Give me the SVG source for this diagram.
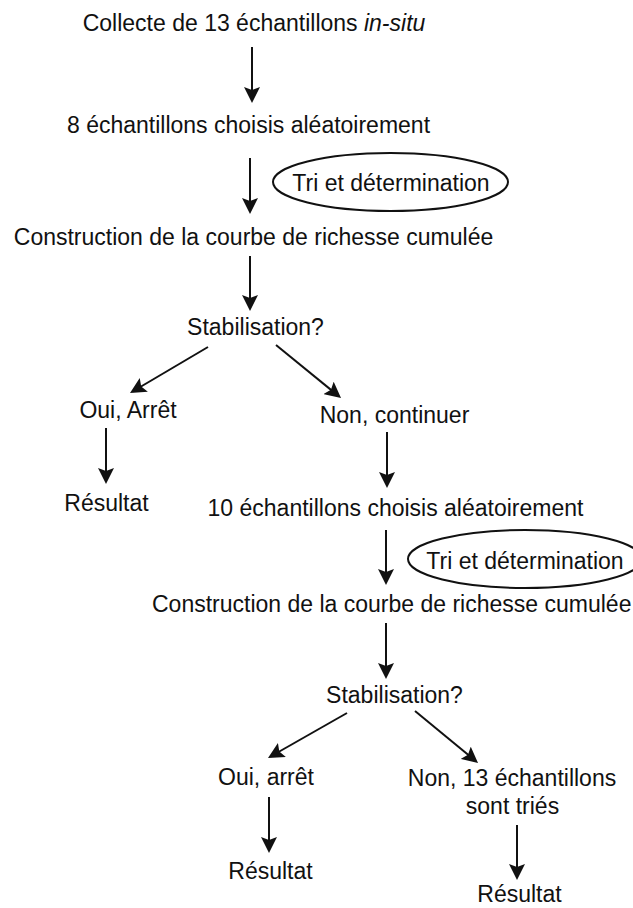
<svg xmlns="http://www.w3.org/2000/svg" width="633" height="908" viewBox="0 0 633 908">
  <defs>
    <style>
      text { font-family: "Liberation Sans", Arial, sans-serif; font-size: 23px; fill: #111; }
      .c { text-anchor: middle; }
      .edge { stroke: #111; stroke-width: 2; fill: none; marker-end: url(#ah); }
      .oval { stroke: #111; stroke-width: 2; fill: #fff; }
    </style>
    <marker id="ah" viewBox="0 0 16 16" refX="13" refY="8" markerWidth="16" markerHeight="16" markerUnits="userSpaceOnUse" orient="auto">
      <path d="M0,0 L16,8 L0,16 L3,8 Z" fill="#111"/>
    </marker>
  </defs>
  <rect width="633" height="908" fill="#fff"/>

  <g id="connectors">
    <line class="edge" x1="252" y1="47" x2="252" y2="100"/>
    <line class="edge" x1="250" y1="158" x2="250" y2="211"/>
    <line class="edge" x1="250" y1="256" x2="250" y2="308"/>
    <line class="edge" x1="208" y1="347" x2="132.6" y2="391.5"/>
    <line class="edge" x1="276" y1="345" x2="338.7" y2="396.1"/>
    <line class="edge" x1="106" y1="428" x2="106" y2="481"/>
    <line class="edge" x1="387" y1="432" x2="387" y2="485"/>
    <line class="edge" x1="386" y1="530" x2="386" y2="582"/>
    <line class="edge" x1="386" y1="623" x2="386" y2="676"/>
    <line class="edge" x1="347" y1="713" x2="270.6" y2="756.5"/>
    <line class="edge" x1="415" y1="711" x2="475.7" y2="761.1"/>
    <line class="edge" x1="269" y1="797" x2="269" y2="850"/>
    <line class="edge" x1="517" y1="825" x2="517" y2="877"/>
  </g>

  <g id="collecte"><text class="c" x="254" y="31">Collecte de 13 échantillons <tspan font-style="italic">in-situ</tspan></text></g>
  <g id="choix8"><text class="c" x="248.5" y="133">8 échantillons choisis aléatoirement</text></g>
  <g id="tri1">
    <ellipse class="oval" cx="390.5" cy="182" rx="117.5" ry="29"/>
    <text class="c" x="391" y="191">Tri et détermination</text>
  </g>
  <g id="construction1"><text class="c" x="253.5" y="245">Construction de la courbe de richesse cumulée</text></g>
  <g id="stab1"><text class="c" x="255.5" y="335">Stabilisation?</text></g>
  <g id="oui1"><text class="c" x="128" y="418">Oui, Arrêt</text></g>
  <g id="non1"><text class="c" x="394.5" y="423">Non, continuer</text></g>
  <g id="resultat1"><text class="c" x="106.5" y="511">Résultat</text></g>
  <g id="choix10"><text class="c" x="395.5" y="516">10 échantillons choisis aléatoirement</text></g>
  <g id="tri2">
    <ellipse class="oval" cx="525" cy="559" rx="117" ry="29"/>
    <text class="c" x="525" y="569">Tri et détermination</text>
  </g>
  <g id="construction2"><text x="152" y="612">Construction de la courbe de richesse cumulée</text></g>
  <g id="stab2"><text class="c" x="394.5" y="703">Stabilisation?</text></g>
  <g id="oui2"><text class="c" x="266" y="785">Oui, arrêt</text></g>
  <g id="non2">
    <text class="c" x="512" y="786">Non, 13 échantillons</text>
    <text class="c" x="512.5" y="814">sont triés</text>
  </g>
  <g id="resultat2"><text class="c" x="270.5" y="879">Résultat</text></g>
  <g id="resultat3"><text class="c" x="519.5" y="902">Résultat</text></g>
</svg>
